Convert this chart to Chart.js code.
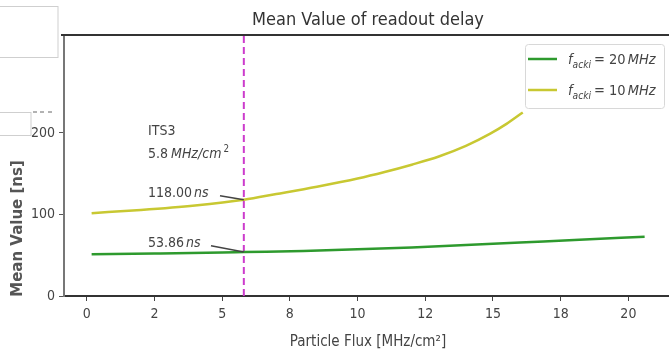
<!DOCTYPE html>
<html>
<head>
<meta charset="utf-8">
<script src="https://cdn.jsdelivr.net/npm/chart.js@4"></script>
<style>
html,body{margin:0;padding:0;background:#fff;}
#wrap{width:669px;height:354px;position:relative;}
</style>
</head>
<body>
<div id="wrap"><canvas id="c" width="669" height="354"></canvas></div>
<script>
// ---- data ----
const fluxG = [0.18, 2.5, 5, 5.8, 8, 10, 12, 14, 16, 18, 20.6];
const delay20 = [51.2, 52.1, 53.3, 53.86, 55.3, 57.2, 59.6, 62.4, 65.5, 68.8, 72.5];
const fluxY = [0.18, 2, 4, 5.8, 7, 8.5, 10, 11, 12, 13, 14, 14.9, 15.5, 16.1];
const delay10 = [101.6, 105.5, 111, 118, 125, 134, 144, 152, 161, 171, 184, 199, 211, 225];
const its3Flux = 5.8;
const its3Delay20 = 53.86;
const its3Delay10 = 118.00;
const xTicks = [0, 2.5, 5, 7.5, 10, 12.5, 15, 17.5, 20];
const yTicks = [0, 100, 200];

const FONT = "'DejaVu Sans Condensed', 'DejaVu Sans', sans-serif";
const GREEN = '#2e9a2e';
const OLIVE = '#c8c832';
const MAG = '#cc3ccc';

function roundHalfEven(v){
  const f = Math.floor(v), d = v - f;
  if (Math.abs(d - 0.5) < 1e-9) return (f % 2 === 0) ? f : f + 1;
  return Math.round(v);
}

function drawRich(ctx, x, y, parts, size){
  let cx = x;
  for (const [t, s] of parts){
    let fs = size, dy = 0, st = '';
    if (s === 'i') st = 'italic ';
    if (s === 'sub'){ st = 'italic '; fs = size*0.7; dy = size*0.25; }
    if (s === 'sup'){ fs = size*0.7; dy = -size*0.42; }
    if (s === 'gap'){ cx += parseFloat(t); continue; }
    ctx.font = st + fs + 'px ' + FONT;
    ctx.fillText(t, cx, y + dy);
    cx += ctx.measureText(t).width;
  }
  return cx;
}

const overlay = {
  id: 'overlay',
  afterDraw(chart){
    const ctx = chart.ctx;
    const xs = chart.scales.x, ys = chart.scales.y;
    const ca = chart.chartArea;
    ctx.save();
    // top spine
    ctx.strokeStyle = '#333'; ctx.lineWidth = 2;
    ctx.beginPath(); ctx.moveTo(61, ca.top); ctx.lineTo(669, ca.top); ctx.stroke();

    // title
    ctx.fillStyle = '#333';
    ctx.font = '18px ' + FONT;
    ctx.textAlign = 'center'; ctx.textBaseline = 'alphabetic';
    ctx.fillText('Mean Value of readout delay', 368, 25);

    // axis titles
    ctx.fillStyle = '#444';
    ctx.font = '15px ' + FONT;
    ctx.fillText('Particle Flux [MHz/cm²]', 368, 346);
    ctx.save();
    ctx.translate(22, 228.5); ctx.rotate(-Math.PI/2);
    ctx.fillStyle = '#555';
    ctx.font = "bold 15px 'DejaVu Sans', sans-serif";
    ctx.fillText('Mean Value [ns]', 0, 0);
    ctx.restore();

    // annotations
    ctx.textAlign = 'left';
    ctx.fillStyle = '#444';
    drawRich(ctx, 148, 135, [['ITS3','n']], 14);
    drawRich(ctx, 148, 158, [['5.8','n'],['3','gap'],['MHz/cm','i'],['2','gap'],['2','sup']], 14);
    drawRich(ctx, 148, 197, [['118.00','n'],['2','gap'],['ns','i']], 14);
    drawRich(ctx, 148, 247, [['53.86','n'],['2','gap'],['ns','i']], 14);

    // leader lines
    const px = xs.getPixelForValue(its3Flux);
    ctx.strokeStyle = '#444'; ctx.lineWidth = 1.5;
    ctx.beginPath(); ctx.moveTo(220, 195.7); ctx.lineTo(px, ys.getPixelForValue(its3Delay10)); ctx.stroke();
    ctx.beginPath(); ctx.moveTo(211, 245.7); ctx.lineTo(px, ys.getPixelForValue(its3Delay20)); ctx.stroke();

    // legend
    ctx.fillStyle = '#fff';
    ctx.strokeStyle = '#d8d8d8'; ctx.lineWidth = 1;
    ctx.beginPath();
    ctx.roundRect(525.5, 44.5, 139, 64, 3);
    ctx.fill(); ctx.stroke();
    const rows = [[GREEN, '20', 59], [OLIVE, '10', 90]];
    for (const [col, val, yy] of rows){
      ctx.strokeStyle = col; ctx.lineWidth = 2.5;
      ctx.beginPath(); ctx.moveTo(528, yy); ctx.lineTo(557, yy); ctx.stroke();
      ctx.fillStyle = '#444';
      drawRich(ctx, 568, yy + 5, [['f','i'],['acki','sub'],['3','gap'],['= ' + val,'n'],['2','gap'],['MHz','i']], 14.5);
    }

    // artifact boxes
    ctx.fillStyle = '#fff'; ctx.strokeStyle = '#cfcfcf'; ctx.lineWidth = 1;
    ctx.fillRect(0, 6, 58, 51); ctx.strokeRect(-1, 6.5, 59, 51);
    ctx.fillRect(0, 112, 31, 23); ctx.strokeRect(-1, 112.5, 32, 23);
    ctx.strokeStyle = '#666'; ctx.lineWidth = 1;
    for (const [a,b] of [[33,37],[40,44],[48,52]]){
      ctx.beginPath(); ctx.moveTo(a, 112); ctx.lineTo(b, 112); ctx.stroke();
    }
    ctx.restore();
  }
};

new Chart(document.getElementById('c'), {
  type: 'line',
  data: {
    datasets: [
      {
        label: 'f_acki = 20 MHz',
        data: fluxG.map((x, i) => ({x, y: delay20[i]})),
        borderColor: GREEN, borderWidth: 2.5, pointRadius: 0,
        cubicInterpolationMode: 'monotone', fill: false
      },
      {
        label: 'f_acki = 10 MHz',
        data: fluxY.map((x, i) => ({x, y: delay10[i]})),
        borderColor: OLIVE, borderWidth: 2.5, pointRadius: 0,
        cubicInterpolationMode: 'monotone', fill: false
      },
      {
        label: 'ITS3',
        data: [{x: its3Flux, y: 0}, {x: its3Flux, y: 320}],
        borderColor: MAG, borderWidth: 2, borderDash: [7, 4], pointRadius: 0, fill: false
      }
    ]
  },
  options: {
    responsive: false,
    animation: false,
    layout: { padding: { top: 35, left: 0, right: 0, bottom: 0 } },
    plugins: { legend: { display: false }, title: { display: false }, tooltip: { enabled: false } },
    scales: {
      x: {
        type: 'linear', min: -0.84, max: 21.5,
        afterFit(s){ s.height = 58; },
        afterBuildTicks(s){ s.ticks = xTicks.map(v => ({value: v})); },
        ticks: {
          callback: v => String(roundHalfEven(v)),
          color: '#444', font: { family: FONT, size: 14 }, padding: 5, maxRotation: 0, autoSkip: false
        },
        grid: { drawOnChartArea: false, drawTicks: true, tickLength: 5, tickColor: '#444', tickWidth: 1 },
        border: { display: true, color: '#333', width: 2 }
      },
      y: {
        type: 'linear', min: 0, max: 320,
        afterFit(s){ s.width = 64; },
        afterBuildTicks(s){ s.ticks = yTicks.map(v => ({value: v})); },
        ticks: { color: '#444', font: { family: FONT, size: 14 }, padding: 4 },
        grid: { drawOnChartArea: false, drawTicks: true, tickLength: 5, tickColor: '#555', tickWidth: 1 },
        border: { display: true, color: '#777', width: 2 }
      }
    }
  },
  plugins: [overlay]
});
</script>
</body>
</html>
